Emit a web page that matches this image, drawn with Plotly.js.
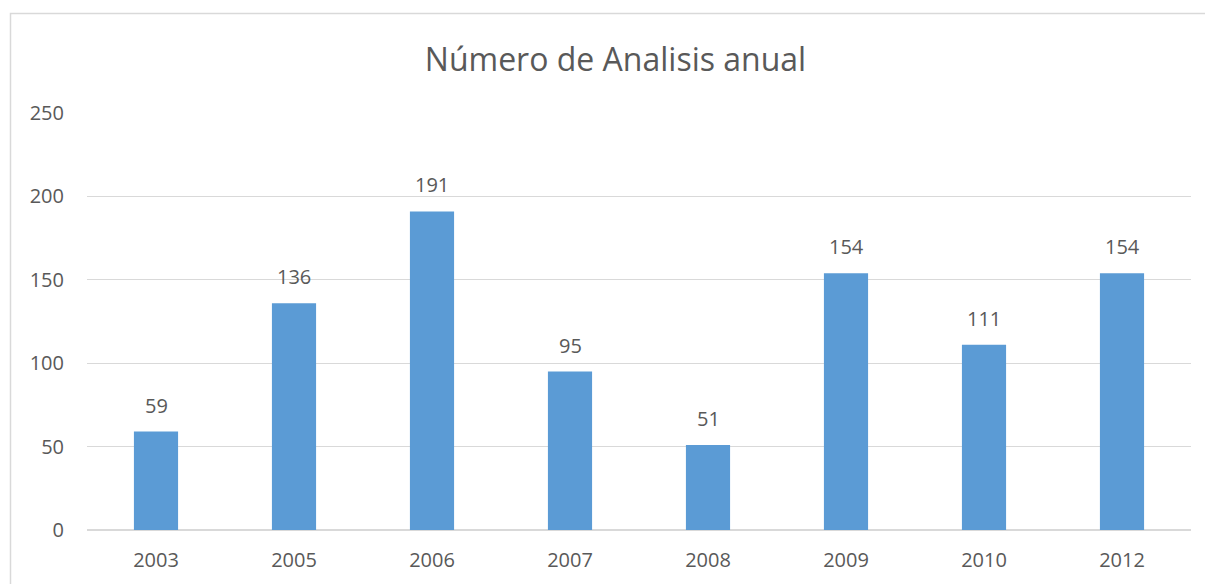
<!DOCTYPE html>
<html><head><meta charset="utf-8">
<script src="https://cdn.plot.ly/plotly-3.0.1.min.js"></script>
<style>html,body{margin:0;padding:0;background:#fff}#c{width:1205px;height:584px}</style>
</head><body><div id="c"></div>
<script>
const years = ['2003','2005','2006','2007','2008','2009','2010','2012'];
const counts = [59,136,191,95,51,154,111,154];
const yTicks = [0,50,100,150,200,250];

const font = "'Open Sans', 'Liberation Sans', sans-serif";
const txt = '#595959';

const trace = {
  type:'bar', x:years, y:counts,
  marker:{color:'#5B9BD5', line:{width:0}},
  hoverinfo:'none'
};

const annotations = years.map((y,i)=>({
  x:i, y:counts[i], xref:'x', yref:'y', text:String(counts[i]),
  showarrow:false, yanchor:'bottom', yshift:11,
  font:{family:font, size:20, color:txt}
}));

const layout = {
  width:1205, height:584,
  margin:{l:87, r:14, t:113, b:54},
  paper_bgcolor:'#fff', plot_bgcolor:'#fff',
  bargap:0.68,
  showlegend:false,
  title:{text:'Número de Analisis anual', font:{family:font, size:32, color:txt},
         x:615.5/1205, xanchor:'center', y:1-60/584, yanchor:'middle'},
  xaxis:{type:'category', categoryarray:years, range:[-0.5, years.length-0.5], autorange:false,
         showgrid:false, zeroline:false, showline:false, ticks:'',
         tickfont:{family:font, size:20, color:txt}, ticklabelstandoff:16, fixedrange:true},
  yaxis:{range:[0,250], autorange:false, tickvals:yTicks, ticktext:yTicks.map(String), showgrid:true,
         gridcolor:'#D9D9D9', gridwidth:1.3, zeroline:true, zerolinecolor:'#D9D9D9', zerolinewidth:1.3,
         showline:false, ticks:'', tickfont:{family:font, size:20, color:txt}, ticklabelstandoff:22, fixedrange:true},
  annotations:annotations,
  shapes:[{type:'rect', xref:'paper', yref:'paper',
           x0:(10.5-87)/1104, x1:(1215-87)/1104, y0:(530-600)/417, y1:(530-13.5)/417,
           line:{color:'#D9D9D9', width:1.5}, fillcolor:'rgba(0,0,0,0)', layer:'below'}]
};

Plotly.newPlot('c',[trace],layout,{displayModeBar:false, staticPlot:true});
</script></body></html>
